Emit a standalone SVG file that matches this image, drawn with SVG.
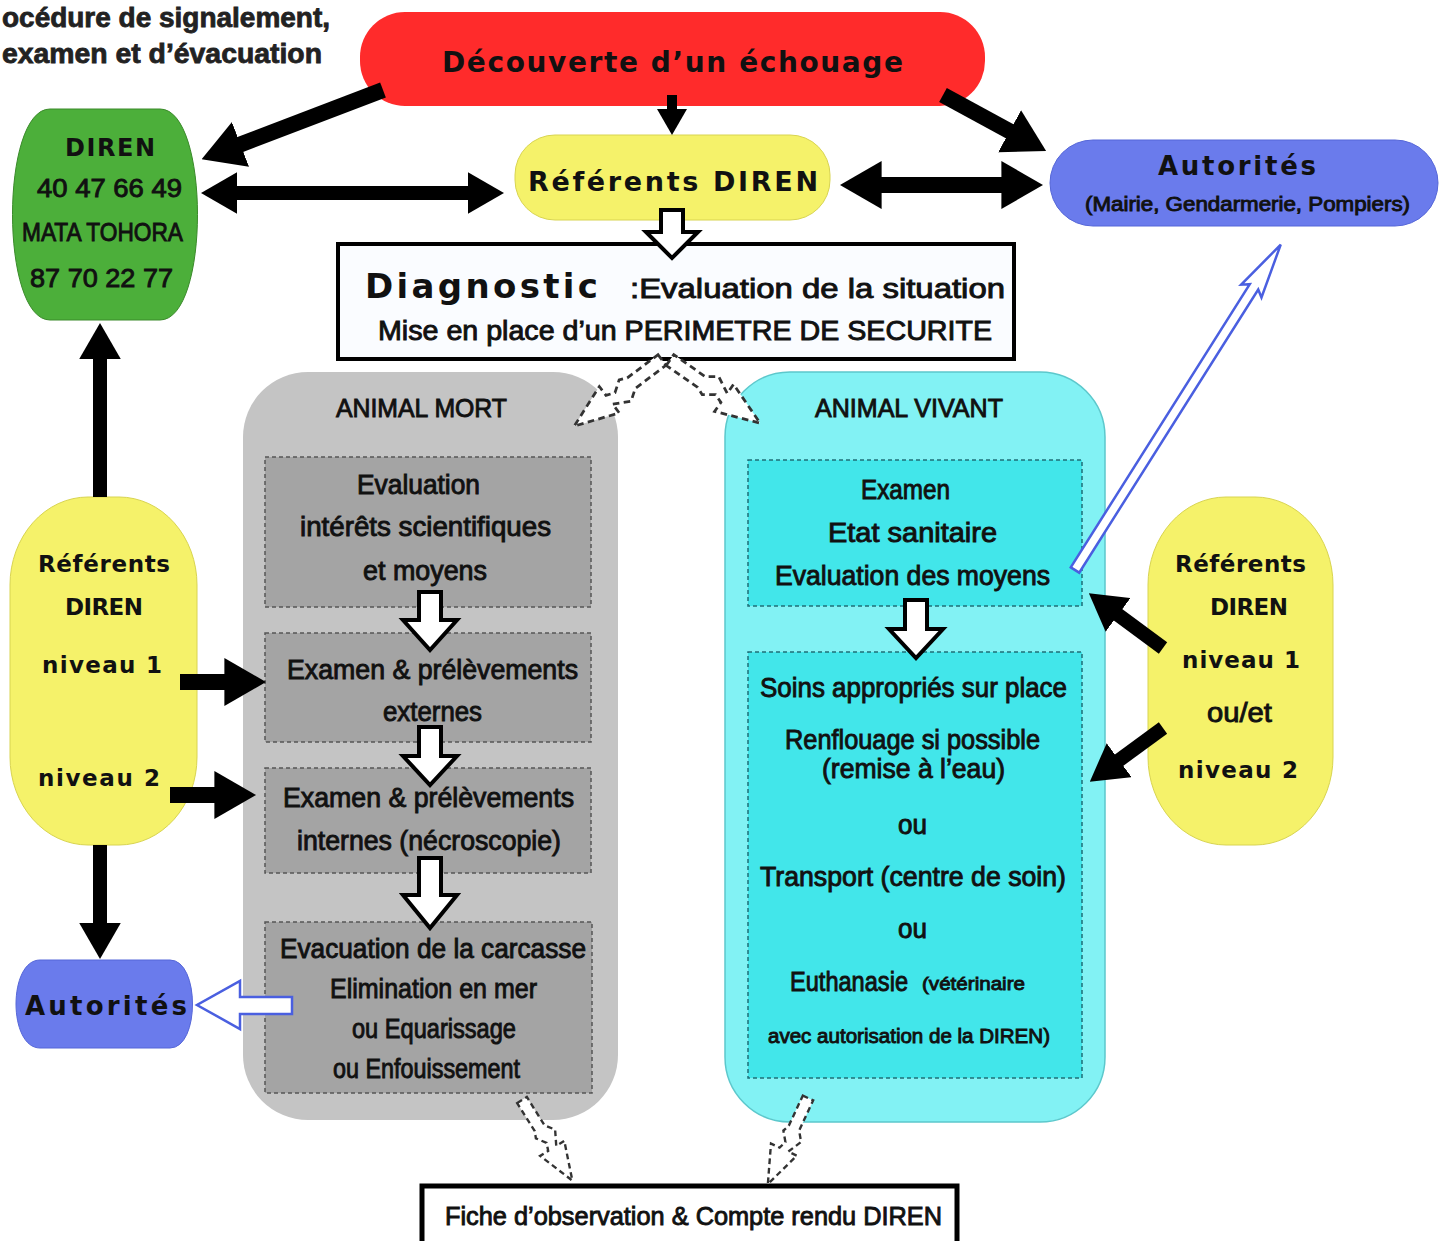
<svg xmlns="http://www.w3.org/2000/svg" width="1447" height="1241" viewBox="0 0 1447 1241">
<style>
.sp{font-family:"DejaVu Sans","Liberation Sans",sans-serif;font-weight:bold;fill:#111;}
.bd{font-family:"Liberation Sans","DejaVu Sans",sans-serif;fill:#111;stroke:#111;stroke-width:0.9;}
.ttl{font-family:"Liberation Sans",sans-serif;font-weight:bold;fill:#222;stroke:#222;stroke-width:0.8;}
.blk{stroke:#000;fill:none;}
.wb{fill:#fff;stroke:#000;stroke-width:4;stroke-linejoin:miter;}
.bb{fill:#fff;stroke:#4a5fe0;stroke-width:2.5;}
.zig{fill:#fff;stroke:#333;stroke-width:2.5;stroke-dasharray:6 4;}
.inG{fill:#a4a4a4;stroke:#555;stroke-width:1.5;stroke-dasharray:4 3;}
.inC{fill:#42e6ea;stroke:#1f6f77;stroke-width:1.5;stroke-dasharray:4 3;}
</style>
<defs>
<marker id="ah" viewBox="0 0 2.6 3" refX="0.1" refY="1.5" markerWidth="2.6" markerHeight="3" markerUnits="strokeWidth" orient="auto-start-reverse">
<path d="M0,0 L2.6,1.5 L0,3 Z" fill="#000"/>
</marker>
<path id="zz" d="M-6,0 L6,0 L6,35 L13,45 L5,60 L15,60 L0,100 L-15,60 L-5,60 L-2,52 L-9,42 L-6,35 Z"/>
</defs>
<rect width="1447" height="1241" fill="#fff"/>

<g id="title">
<text class="ttl" x="2" y="27" font-size="28" textLength="328" lengthAdjust="spacingAndGlyphs">océdure de signalement,</text>
<text class="ttl" x="2" y="63" font-size="28" textLength="320" lengthAdjust="spacingAndGlyphs">examen et d’évacuation</text>
</g>

<g id="decouverte">
<rect x="360" y="12" width="625" height="94" rx="45" fill="#ff2b2b"/>
<text class="sp" x="442" y="72" font-size="28" textLength="461" lengthAdjust="spacing">Découverte d’un échouage</text>
</g>

<g id="diren-green">
<path d="M50,109 H160 C210,109 210,320 160,320 H50 C0,320 0,109 50,109 Z" fill="#4caf3a" stroke="#3a8a2a" stroke-width="1"/>
<text class="sp" x="65" y="156" font-size="24" textLength="90" lengthAdjust="spacing">DIREN</text>
<text class="bd" x="37" y="197" font-size="26" textLength="145" lengthAdjust="spacingAndGlyphs">40 47 66 49</text>
<text class="bd" x="22" y="241" font-size="26" textLength="161" lengthAdjust="spacingAndGlyphs">MATA TOHORA</text>
<text class="bd" x="30" y="287" font-size="26" textLength="143" lengthAdjust="spacingAndGlyphs">87 70 22 77</text>
</g>

<g id="referents-top">
<rect x="515" y="135" width="315" height="85" rx="40" fill="#f5f26a" stroke="#d8d450" stroke-width="1"/>
<text class="sp" x="528" y="191" font-size="27" textLength="290" lengthAdjust="spacing">Référents DIREN</text>
</g>

<g id="autorites-top">
<rect x="1050" y="140" width="388" height="86" rx="43" fill="#6a7bec" stroke="#5566d8" stroke-width="1"/>
<text class="sp" x="1158" y="175" font-size="26" textLength="158" lengthAdjust="spacing">Autorités</text>
<text class="bd" x="1085" y="211" font-size="20" textLength="325" lengthAdjust="spacingAndGlyphs">(Mairie, Gendarmerie, Pompiers)</text>
</g>

<g id="diagnostic">
<rect x="338" y="244" width="676" height="115" fill="#fafcff" stroke="#000" stroke-width="4"/>
<text class="sp" x="365" y="298" font-size="34" font-weight="normal" textLength="233" lengthAdjust="spacing">Diagnostic</text>
<text class="bd" x="630" y="298" font-size="27" textLength="375" lengthAdjust="spacingAndGlyphs">:Evaluation de la situation</text>
<text class="bd" x="378" y="340" font-size="27" textLength="614" lengthAdjust="spacingAndGlyphs">Mise en place d’un PERIMETRE DE SECURITE</text>
</g>

<g id="animal-mort">
<rect x="243" y="372" width="375" height="748" rx="65" fill="#c4c4c4"/>
<text class="bd" x="336" y="417" font-size="26" textLength="171" lengthAdjust="spacingAndGlyphs">ANIMAL MORT</text>
</g>

<g id="mort-evaluation">
<rect class="inG" x="265" y="457" width="326" height="150"/>
<text class="bd" x="357" y="494" font-size="27" textLength="123" lengthAdjust="spacingAndGlyphs">Evaluation</text>
<text class="bd" x="300" y="536" font-size="27" textLength="251" lengthAdjust="spacingAndGlyphs">intérêts scientifiques</text>
<text class="bd" x="363" y="580" font-size="27" textLength="124" lengthAdjust="spacingAndGlyphs">et moyens</text>
</g>

<g id="mort-externes">
<rect class="inG" x="265" y="633" width="326" height="109"/>
<text class="bd" x="287" y="679" font-size="27" textLength="291" lengthAdjust="spacingAndGlyphs">Examen &amp; prélèvements</text>
<text class="bd" x="383" y="721" font-size="27" textLength="99" lengthAdjust="spacingAndGlyphs">externes</text>
</g>

<g id="mort-internes">
<rect class="inG" x="265" y="768" width="326" height="105"/>
<text class="bd" x="283" y="807" font-size="27" textLength="291" lengthAdjust="spacingAndGlyphs">Examen &amp; prélèvements</text>
<text class="bd" x="297" y="850" font-size="27" textLength="264" lengthAdjust="spacingAndGlyphs">internes (nécroscopie)</text>
</g>

<g id="mort-evacuation">
<rect class="inG" x="265" y="922" width="327" height="171"/>
<text class="bd" x="280" y="958" font-size="27" textLength="306" lengthAdjust="spacingAndGlyphs">Evacuation de la carcasse</text>
<text class="bd" x="330" y="998" font-size="27" textLength="207" lengthAdjust="spacingAndGlyphs">Elimination en mer</text>
<text class="bd" x="352" y="1038" font-size="27" textLength="164" lengthAdjust="spacingAndGlyphs">ou Equarissage</text>
<text class="bd" x="333" y="1078" font-size="27" textLength="187" lengthAdjust="spacingAndGlyphs">ou Enfouissement</text>
</g>

<g id="animal-vivant">
<rect x="725" y="372" width="380" height="750" rx="65" fill="#82f2f4" stroke="#5cc8cc" stroke-width="1.5"/>
<text class="bd" x="815" y="417" font-size="26" textLength="188" lengthAdjust="spacingAndGlyphs">ANIMAL VIVANT</text>
</g>

<g id="vivant-examen">
<rect class="inC" x="748" y="460" width="334" height="146"/>
<text class="bd" x="861" y="499" font-size="27" textLength="89" lengthAdjust="spacingAndGlyphs">Examen</text>
<text class="bd" x="828" y="542" font-size="27" textLength="169" lengthAdjust="spacingAndGlyphs">Etat sanitaire</text>
<text class="bd" x="775" y="585" font-size="27" textLength="275" lengthAdjust="spacingAndGlyphs">Evaluation des moyens</text>
</g>

<g id="vivant-soins">
<rect class="inC" x="748" y="652" width="334" height="426"/>
<text class="bd" x="760" y="697" font-size="27" textLength="307" lengthAdjust="spacingAndGlyphs">Soins appropriés sur place</text>
<text class="bd" x="785" y="749" font-size="27" textLength="255" lengthAdjust="spacingAndGlyphs">Renflouage si possible</text>
<text class="bd" x="822" y="778" font-size="27" textLength="183" lengthAdjust="spacingAndGlyphs">(remise à l’eau)</text>
<text class="bd" x="898" y="834" font-size="27" textLength="29" lengthAdjust="spacingAndGlyphs">ou</text>
<text class="bd" x="760" y="886" font-size="27" textLength="306" lengthAdjust="spacingAndGlyphs">Transport (centre de soin)</text>
<text class="bd" x="898" y="938" font-size="27" textLength="29" lengthAdjust="spacingAndGlyphs">ou</text>
<text class="bd" x="790" y="991" font-size="27" textLength="118" lengthAdjust="spacingAndGlyphs">Euthanasie</text>
<text class="bd" x="922" y="990" font-size="19" textLength="103" lengthAdjust="spacingAndGlyphs">(vétérinaire</text>
<text class="bd" x="768" y="1043" font-size="20" textLength="282" lengthAdjust="spacingAndGlyphs">avec autorisation de la DIREN)</text>
</g>

<g id="referents-left">
<rect x="10" y="497" width="187" height="348" rx="78" ry="88" fill="#f5f26a" stroke="#d8d450" stroke-width="1"/>
<text class="sp" x="38" y="572" font-size="23" textLength="132" lengthAdjust="spacing">Référents</text>
<text class="sp" x="65" y="615" font-size="23" textLength="78" lengthAdjust="spacing">DIREN</text>
<text class="sp" x="42" y="673" font-size="23" textLength="120" lengthAdjust="spacing">niveau 1</text>
<text class="sp" x="38" y="786" font-size="23" textLength="122" lengthAdjust="spacing">niveau 2</text>
</g>

<g id="referents-right">
<rect x="1148" y="497" width="185" height="348" rx="78" ry="88" fill="#f5f26a" stroke="#d8d450" stroke-width="1"/>
<text class="sp" x="1175" y="572" font-size="23" textLength="131" lengthAdjust="spacing">Référents</text>
<text class="sp" x="1210" y="615" font-size="23" textLength="78" lengthAdjust="spacing">DIREN</text>
<text class="sp" x="1182" y="668" font-size="23" textLength="118" lengthAdjust="spacing">niveau 1</text>
<text class="bd" x="1207" y="722" font-size="27" textLength="65" lengthAdjust="spacingAndGlyphs">ou/et</text>
<text class="sp" x="1178" y="778" font-size="23" textLength="120" lengthAdjust="spacing">niveau 2</text>
</g>

<g id="autorites-bottom">
<path d="M40,960 H170 C200,960 200,1048 170,1048 H40 C8,1048 8,960 40,960 Z" fill="#6a7bec" stroke="#5566d8" stroke-width="1"/>
<text class="sp" x="25" y="1015" font-size="26" textLength="162" lengthAdjust="spacing">Autorités</text>
</g>

<g id="fiche">
<rect x="422" y="1186" width="535" height="62" fill="#fff" stroke="#000" stroke-width="5"/>
<text class="bd" x="445" y="1225" font-size="26" textLength="497" lengthAdjust="spacingAndGlyphs">Fiche d’observation &amp; Compte rendu DIREN</text>
</g>

<g id="connectors">
<line class="blk" x1="383" y1="90" x2="239" y2="145" stroke-width="16" marker-end="url(#ah)"/>
<line class="blk" x1="672" y1="95" x2="672" y2="110" stroke-width="10" marker-end="url(#ah)"/>
<line class="blk" x1="943" y1="95" x2="1011" y2="132" stroke-width="16" marker-end="url(#ah)"/>
<line class="blk" x1="236" y1="193" x2="469" y2="193" stroke-width="14" marker-start="url(#ah)" marker-end="url(#ah)"/>
<line class="blk" x1="880" y1="185" x2="1003" y2="185" stroke-width="16" marker-start="url(#ah)" marker-end="url(#ah)"/>
<line class="blk" x1="100" y1="497" x2="100" y2="358" stroke-width="14" marker-end="url(#ah)"/>
<line class="blk" x1="100" y1="845" x2="100" y2="924" stroke-width="14" marker-end="url(#ah)"/>
<line class="blk" x1="180" y1="682" x2="226" y2="682" stroke-width="16" marker-end="url(#ah)"/>
<line class="blk" x1="170" y1="795" x2="216" y2="795" stroke-width="16" marker-end="url(#ah)"/>
<line class="blk" x1="1163" y1="648" x2="1117" y2="614" stroke-width="14" marker-end="url(#ah)"/>
<line class="blk" x1="1163" y1="728" x2="1118" y2="761" stroke-width="14" marker-end="url(#ah)"/>

<polygon class="wb" points="661,210 683,210 683,232 698,232 672,258 646,232 661,232"/>
<polygon class="wb" points="419,592 441,592 441,620 457,620 430,650 403,620 419,620"/>
<polygon class="wb" points="419,727 441,727 441,756 457,756 430,785 403,756 419,756"/>
<polygon class="wb" points="419,858 441,858 441,895 457,895 430,928 403,895 419,895"/>
<polygon class="wb" points="905,600 927,600 927,629 943,629 916,658 889,629 905,629"/>

<polygon class="bb" points="292,997 240,997 240,981 197,1005 240,1029 240,1014 292,1014"/>
<polygon class="bb" transform="translate(1075,570) rotate(32.3)" points="-5,0 5,0 5,-335 12,-330 0,-385 -12,-330 -5,-335"/>

<use href="#zz" class="zig" transform="translate(662,360) rotate(53) scale(1.1)"/>
<use href="#zz" class="zig" transform="translate(670,360) rotate(-55) scale(1.1)"/>
<use href="#zz" class="zig" transform="translate(522,1100) rotate(-32) scale(0.95)"/>
<use href="#zz" class="zig" transform="translate(808,1098) rotate(25) scale(0.95)"/>
</g>
</svg>
